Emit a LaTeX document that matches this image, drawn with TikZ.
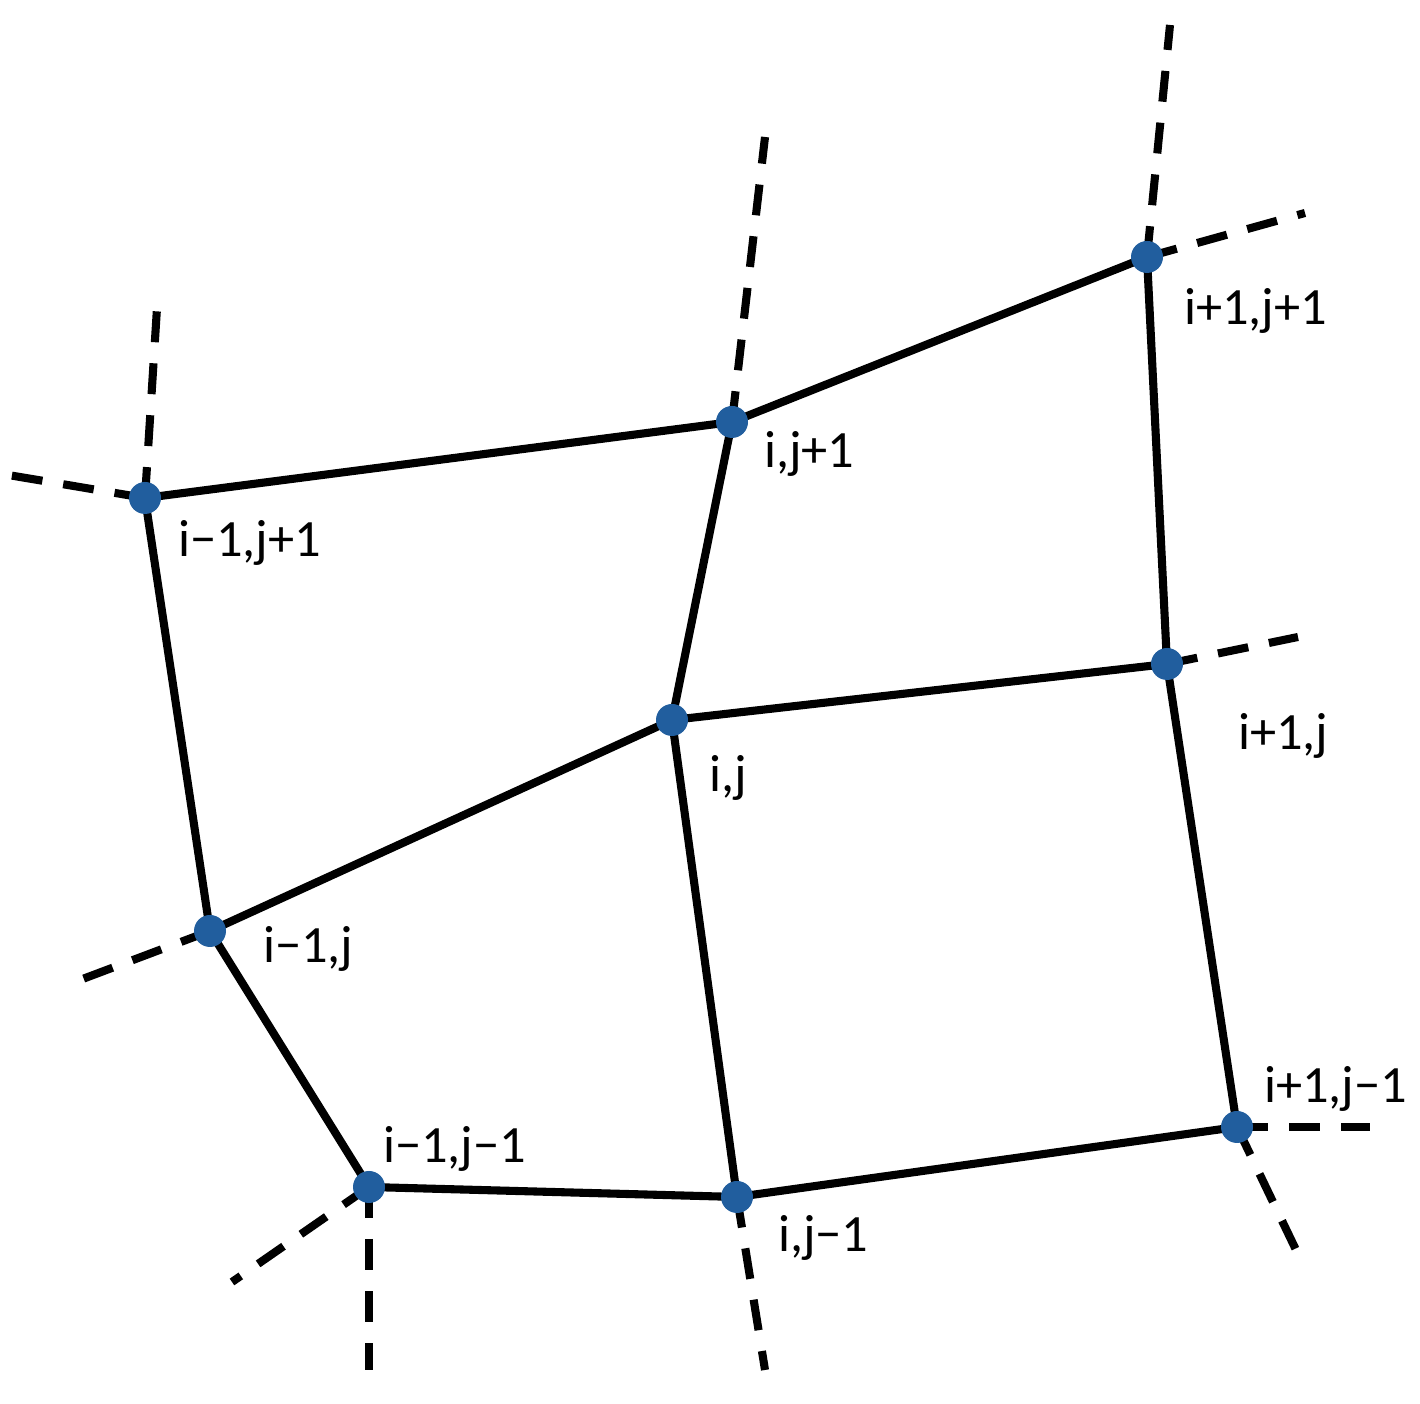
\documentclass[tikz,border=0pt]{standalone}
\usepackage{fontspec}
\setmainfont{Carlito}
\usetikzlibrary{calc}
\definecolor{dotblue}{RGB}{33,94,158}
\tikzset{
    grid mesh/.style={
            line width=2.3pt,
            edge/.style={draw=black},
            ghost/.style={draw=black,dash pattern=on 8.8pt off 6pt},
            dot/.style={circle,fill=dotblue,inner sep=0pt,minimum size=0.32cm},
            lbl/.style={anchor=base west,inner sep=0pt,font=\fontsize{14.9}{18}\selectfont}
        }
    }
\begin{document}
\begin{tikzpicture}[grid mesh]
    \useasboundingbox (0,0) rectangle (14.2,14.04);
    % mesh points
    \coordinate (mp) at (1.45,9.06);
    \coordinate (zp) at (7.32,9.82);
    \coordinate (pp) at (11.47,11.47);
    \coordinate (mz) at (2.10,4.73);
    \coordinate (zz) at (6.72,6.84);
    \coordinate (pz) at (11.67,7.40);
    \coordinate (mm) at (3.69,2.17);
    \coordinate (zm) at (7.37,2.07);
    \coordinate (pm) at (12.37,2.77);
    % loose ends
    \coordinate (mp up) at (1.57,10.96);
    \coordinate (mp left) at (0.08,9.29);
    \coordinate (zp up) at (7.65,12.67);
    \coordinate (pp up) at (11.70,13.79);
    \coordinate (pp right) at (13.05,11.91);
    \coordinate (pz right) at (12.98,7.67);
    \coordinate (mz left) at (0.80,4.24);
    \coordinate (mm down) at (3.69,0.34);
    \coordinate (mm left) at (2.32,1.22);
    \coordinate (zm down) at (7.65,0.34);
    \coordinate (pm right) at (13.70,2.77);
    \coordinate (pm down) at (12.97,1.52);
    % cells
    \draw [edge] (mp) -- (zp) -- (pp) -- (pz) -- (pm) -- (zm) -- (mm) -- (mz) -- cycle;
    \draw [edge] (zp) -- (zz) -- (zm);
    \draw [edge] (mz) -- (zz) -- (pz);
    % dashed continuation
    \draw [ghost] (mp) -- (mp up);
    \draw [ghost] (mp) -- (mp left);
    \draw [ghost] (zp) -- (zp up);
    \draw [ghost] (pp) -- (pp up);
    \draw [ghost] (pp) -- (pp right);
    \draw [ghost] (pz) -- (pz right);
    \draw [ghost] (mz) -- (mz left);
    \draw [ghost] (mm) -- (mm down);
    \draw [ghost] (mm) -- (mm left);
    \draw [ghost] (zm) -- (zm down);
    \draw [ghost] (pm) -- (pm right);
    \draw [ghost] (pm) -- (pm down);
    \foreach \p in {mp,zp,pp,mz,zz,pz,mm,zm,pm}
        \node [dot] (dot-\p) at (\p) {};
    % labels
    \node [lbl] (l-mp) at ($(mp)+(0.29,-0.59)$) {i−1,j+1};
    \node [lbl] (l-zp) at ($(zp)+(0.28,-0.46)$) {i,j+1};
    \node [lbl] (l-pp) at ($(pp)+(0.33,-0.68)$) {i+1,j+1};
    \node [lbl] (l-mz) at ($(mz)+(0.49,-0.32)$) {i−1,j};
    \node [lbl] (l-zz) at ($(zz)+(0.33,-0.72)$) {i,j};
    \node [lbl] (l-pz) at ($(pz)+(0.67,-0.86)$) {i+1,j};
    \node [lbl] (l-mm) at ($(mm)+(0.10,0.24)$) {i−1,j−1};
    \node [lbl] (l-zm) at ($(zm)+(0.37,-0.55)$) {i,j−1};
    \node [lbl] (l-pm) at ($(pm)+(0.23,0.24)$) {i+1,j−1};
\end{tikzpicture}
\end{document}
